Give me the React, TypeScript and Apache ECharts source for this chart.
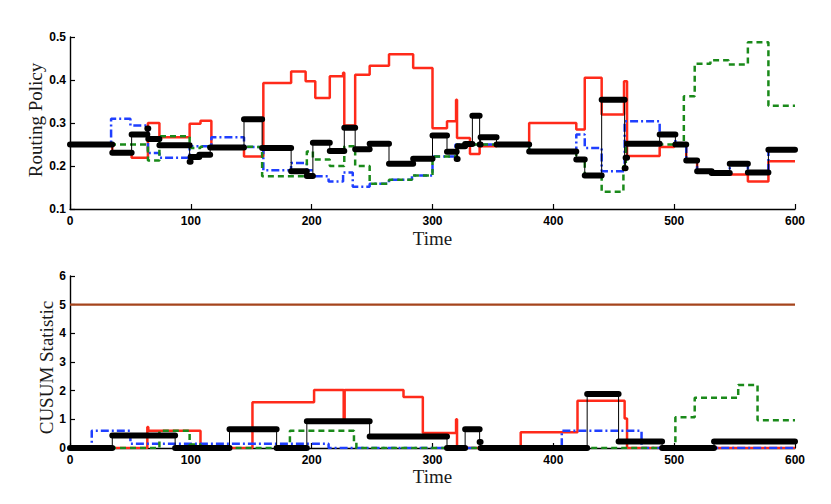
import React, { useEffect, useRef } from "react";
import * as echarts from "echarts";

// ---- axis ticks ----
const timeTicks = [0, 100, 200, 300, 400, 500, 600];
const cusumTicks = [0, 1, 2, 3, 4, 5, 6];
const T_END = 600;
const THRESHOLD = 5;

// ---- Routing policy (change points: [time, value]) ----
const policyRed: [number, number][] = [
  [0, 0.25], [35, 0.231], [51, 0.219], [64.5, 0.3], [74, 0.267], [99, 0.298], [108, 0.305],
  [117, 0.243], [144, 0.222], [160, 0.393], [183, 0.42], [195, 0.397], [203, 0.358],
  [215, 0.409], [226, 0.417], [227, 0.294], [236, 0.412], [248, 0.433], [264, 0.46],
  [284, 0.428], [300, 0.288], [312, 0.304], [319.5, 0.354], [320.3, 0.265], [331, 0.228],
  [339, 0.246], [353, 0.25], [380, 0.3], [419, 0.285], [426, 0.405], [440, 0.32],
  [458.5, 0.397], [461, 0.223], [488, 0.244], [500, 0.25], [510, 0.213], [519, 0.188],
  [531, 0.184], [545, 0.18], [561, 0.164], [578, 0.211],
];
const policyBlue: [number, number][] = [
  [0, 0.25], [34, 0.31], [50, 0.294], [64.5, 0.23], [74, 0.219], [99, 0.246], [117, 0.267],
  [144, 0.244], [160, 0.19], [183, 0.207], [196, 0.19], [201, 0.176], [214, 0.164],
  [226, 0.185], [234, 0.152], [248, 0.159], [264, 0.168], [283, 0.178], [300, 0.222],
  [319, 0.25], [380, 0.234], [419, 0.273], [426, 0.242], [440, 0.188], [459, 0.304],
  [488, 0.273], [501, 0.25], [510, 0.213], [519, 0.188], [531, 0.184], [546, 0.205],
  [561, 0.185], [578, 0.238],
];
const policyGreen: [number, number][] = [
  [0, 0.25], [64.5, 0.213], [74, 0.269], [99, 0.242], [108, 0.245], [144, 0.244],
  [159, 0.176], [196, 0.234], [201, 0.215], [215, 0.2], [227, 0.246], [236, 0.2],
  [248, 0.159], [264, 0.168], [283, 0.178], [300, 0.222], [320, 0.25], [380, 0.234],
  [419, 0.215], [426, 0.178], [440, 0.14], [458, 0.2], [460, 0.25], [508, 0.362],
  [517, 0.438], [530, 0.446], [545, 0.436], [561, 0.488], [578, 0.34],
];
const policyBlack: [number, number][] = [
  [0, 0.25], [35, 0.231], [51, 0.273], [64, 0.287], [64.8, 0.263], [74, 0.248], [99, 0.21],
  [99.8, 0.221], [107, 0.226], [116, 0.243], [144, 0.309], [159, 0.242], [183, 0.188],
  [196, 0.177], [201, 0.254], [215, 0.235], [227, 0.289], [236, 0.239], [248, 0.252],
  [264, 0.205], [284, 0.217], [300, 0.271], [312, 0.233], [320, 0.216], [320.8, 0.246],
  [327, 0.251], [333, 0.317], [339, 0.25], [339.8, 0.267], [353, 0.25], [380, 0.234],
  [419, 0.215], [426, 0.178], [440, 0.354], [459, 0.195], [459.8, 0.219], [461, 0.252],
  [488, 0.273], [501, 0.25], [510, 0.213], [519, 0.188], [531, 0.184], [546, 0.205],
  [561, 0.185], [578, 0.238],
];

// ---- CUSUM statistic (change points: [time, value]) ----
const cusumRed: [number, number][] = [
  [0, 0], [64, 0.73], [64.8, 0.6], [108, 0], [151, 1.6], [202, 2.02], [226.5, 0.97],
  [227.3, 2.02], [276, 1.78], [292, 0.52], [319.5, 1.0], [320.3, 0], [373, 0.55],
  [420, 1.65], [459, 1.03], [461, 0],
];
const cusumBlue: [number, number][] = [
  [0, 0], [18, 0.6], [50, 0.15], [214, 0], [407, 0.6], [473, 0],
];
const cusumGreen: [number, number][] = [
  [0, 0], [74, 0.6], [99, 0.12], [108, 0], [182, 0.6], [235, 0.2], [237, 0],
  [501, 1.07], [517, 1.75], [553, 2.2], [569, 0.97],
];
const cusumBlack: [number, number][] = [
  [0, 0], [35, 0.44], [87, 0], [132, 0.65], [171, 0], [196, 0.93], [248, 0.4], [312, 0],
  [327, 0.65], [339, 0.21], [339.8, 0], [428, 1.88], [454, 0.23], [490, 0], [533, 0.23],
];

const RED = "#ff2a1a";
const BLUE = "#1f3fff";
const GREEN = "#1a8a1a";
const BROWN = "#a5441c";

function stepData(pts: [number, number][]) {
  return [...pts, [T_END, pts[pts.length - 1][1]]];
}
function segData(pts: [number, number][]) {
  const out: any[] = [];
  pts.forEach((p, i) => {
    const x1 = i + 1 < pts.length ? pts[i + 1][0] : T_END;
    out.push([p[0], p[1]], [x1, p[1]], [x1, "-"]);
  });
  return out;
}

function vLabel(text: string, cx: number, cy: number) {
  return {
    type: "group",
    x: cx,
    y: cy,
    rotation: Math.PI / 2,
    children: [
      {
        type: "text",
        x: 0,
        y: 0,
        style: {
          text,
          fill: "#1a1a1a",
          fontFamily: "Liberation Serif",
          fontSize: 19,
          align: "center",
          verticalAlign: "middle",
        },
      },
    ],
  };
}

export default function App() {
  const ref = useRef<HTMLDivElement>(null);
  useEffect(() => {
    const chart = echarts.init(ref.current!, null, { renderer: "svg" });
    const tickLabel = {
      fontFamily: "Liberation Sans",
      fontWeight: "bold" as const,
      fontSize: 12,
      color: "#000",
    };
    const nameStyle = { fontFamily: "Liberation Serif", fontSize: 19, color: "#1a1a1a" };
    const axisLine = { show: true, onZero: false, lineStyle: { color: "#000", width: 1.4 } };
    const axisTick = { show: true, inside: true, length: 5, lineStyle: { color: "#000", width: 1.2 } };

    const xAxis = (gi: number, gap: number) => ({
      type: "value",
      gridIndex: gi,
      min: 0,
      max: 600,
      interval: 100,
      name: "Time",
      nameLocation: "middle",
      nameGap: gap,
      nameTextStyle: nameStyle,
      axisLine,
      axisTick,
      axisLabel: { ...tickLabel, margin: 6, formatter: (v: number) => (timeTicks.includes(v) ? String(v) : "") },
      splitLine: { show: false },
    });

    const lineSeries = (pts: [number, number][], gi: number, color: string, width: number, type: any, z: number) => ({
      type: "line",
      xAxisIndex: gi,
      yAxisIndex: gi,
      step: "end",
      data: stepData(pts),
      showSymbol: false,
      symbol: "none",
      silent: true,
      z,
      lineStyle: { color, width, type },
    });
    const thick = (pts: [number, number][], gi: number) => ({
      type: "line",
      xAxisIndex: gi,
      yAxisIndex: gi,
      data: segData(pts),
      showSymbol: false,
      symbol: "none",
      connectNulls: false,
      silent: true,
      z: 10,
      lineStyle: { color: "#000", width: 6, cap: "round" },
    });

    chart.setOption({
      animation: false,
      backgroundColor: "#fff",
      grid: [
        { left: 70, top: 37, width: 725, height: 172 },
        { left: 70, top: 276, width: 725, height: 172 },
      ],
      graphic: [vLabel("Routing Policy", 35.5, 120), vLabel("CUSUM Statistic", 46, 367.5)],
      xAxis: [xAxis(0, 20), xAxis(1, 18)],
      yAxis: [
        {
          type: "value",
          gridIndex: 0,
          min: 0.1,
          max: 0.5,
          interval: 0.1,
          axisLine,
          axisTick,
          axisLabel: { ...tickLabel, margin: 4, formatter: (v: number) => v.toFixed(1) },
          splitLine: { show: false },
        },
        {
          type: "value",
          gridIndex: 1,
          min: 0,
          max: 6,
          interval: 1,
          axisLine,
          axisTick,
          axisLabel: { ...tickLabel, margin: 4, formatter: (v: number) => (cusumTicks.includes(v) ? String(v) : "") },
          splitLine: { show: false },
        },
      ],
      series: [
        lineSeries(policyRed, 0, RED, 2.5, "solid", 2),
        lineSeries(policyBlue, 0, BLUE, 2.5, [8, 3, 2, 3], 3),
        lineSeries(policyGreen, 0, GREEN, 2.5, [6, 4], 4),
        lineSeries(policyBlack, 0, "#000", 1, "solid", 5),
        thick(policyBlack, 0),
        {
          type: "line",
          xAxisIndex: 1,
          yAxisIndex: 1,
          data: [[0, THRESHOLD], [T_END, THRESHOLD]],
          showSymbol: false,
          symbol: "none",
          silent: true,
          z: 1,
          lineStyle: { color: BROWN, width: 2.4 },
        },
        lineSeries(cusumRed, 1, RED, 2.5, "solid", 2),
        lineSeries(cusumBlue, 1, BLUE, 2.5, [8, 3, 2, 3], 3),
        lineSeries(cusumGreen, 1, GREEN, 2.5, [6, 4], 4),
        lineSeries(cusumBlack, 1, "#000", 1, "solid", 5),
        thick(cusumBlack, 1),
      ],
    });
    return () => chart.dispose();
  }, []);
  return (
    <div
      ref={ref}
      style={{ position: "absolute", left: 0, top: 0, width: 831, height: 504, background: "#fff" }}
    />
  );
}
